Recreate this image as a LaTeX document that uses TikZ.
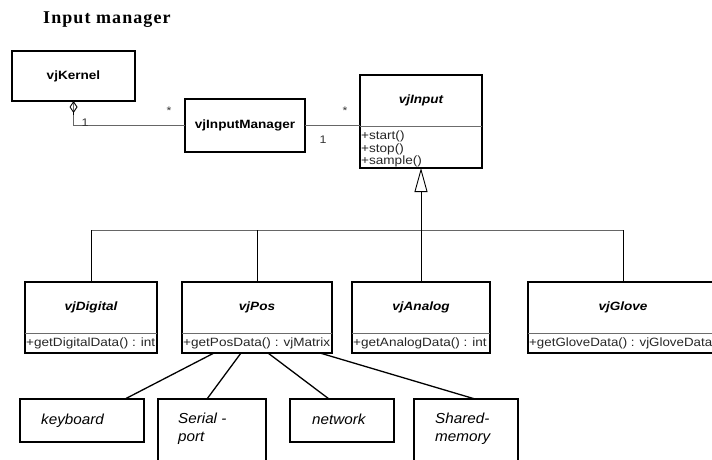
\documentclass[tikz,border=0pt]{standalone}
\usepackage{fontspec}
\setmainfont{Liberation Sans}
\newfontfamily\umlfont[FakeStretch=1.13]{Liberation Sans}
\newfontfamily\umlnarrow[FakeStretch=1.11]{Liberation Sans}
\newfontfamily\boxfont[FakeStretch=1.05]{Liberation Sans}
\newfontfamily\titlefont[LetterSpace=6]{Liberation Serif}
\usetikzlibrary{arrows.meta,calc}
\tikzset{
  cls/.style={draw=black, line width=1.8pt, inner sep=0pt, outer sep=0pt, anchor=north west},
  obox/.style={draw=black, line width=1.6pt, inner sep=0pt, outer sep=0pt, anchor=north west},
  divline/.style={draw=gray!85!black, line width=0.8pt},
  ctitle/.style={inner sep=0pt, font=\umlfont\fontsize{12}{12.3}\selectfont\bfseries},
  meth/.style={inner sep=0pt, anchor=west, align=left, font=\umlfont\fontsize{12}{12.3}\selectfont, text=black!85},
  btext/.style={inner sep=0pt, align=left, font=\boxfont\fontsize{14.5}{18}\selectfont\itshape},
  mult/.style={inner sep=0pt, anchor=base, font=\umlfont\fontsize{11}{11}\selectfont, text=black!80},
  glink/.style={draw=gray!80!black, line width=0.9pt},
  vlink/.style={draw=black, line width=0.9pt},
  plink/.style={draw=black, line width=1.3pt},
}
\begin{document}
\begin{tikzpicture}[x=1pt,y=-1pt]
\useasboundingbox (0,0) rectangle (712,460);
\clip (0,0) rectangle (712,460);

% title
\node[anchor=base west, inner sep=0pt, font=\titlefont\bfseries\fontsize{18}{18}\selectfont] (title) at (43,24) {Input manager};

% top classes
\node[cls, minimum width=123pt, minimum height=50pt] (kern) at (12,51) {};
\node[ctitle] (kernt) at (kern.center) {vjKernel};

\node[cls, minimum width=120pt, minimum height=53pt] (mgr) at (185,99) {};
\node[ctitle] (mgrt) at (mgr.center) {vjInputManager};

\node[cls, minimum width=122pt, minimum height=93pt] (input) at (360,75) {};
\node[ctitle, font=\umlfont\fontsize{12}{12.3}\selectfont\bfseries\itshape] (inputt) at ([yshift=-25.5pt]input.north) {vjInput};
\draw[divline] ([yshift=-51pt]input.north west) -- ([yshift=-51pt]input.north east);
\node[meth, anchor=north west] (inputm) at ([xshift=1pt,yshift=-56pt]input.north west) {+start()\\+stop()\\+sample()};

% bottom classes
\foreach \nm/\x/\w/\t/\m in {dig/25/132/vjDigital/{+getDigitalData() : int},
                            pos/182/150/vjPos/{+getPosData() : vjMatrix},
                            ana/352/138/vjAnalog/{+getAnalogData() : int},
                            glove/528/190/vjGlove/{\umlnarrow +getGloveData() : vjGloveData}}{
  \node[cls, minimum width=\w pt, minimum height=71pt] (\nm) at (\x,282) {};
  \node[ctitle, font=\umlfont\fontsize{12}{12.3}\selectfont\bfseries\itshape] (\nm t) at ([yshift=-25.5pt]\nm.north) {\t};
  \draw[divline] ([yshift=-51pt]\nm.north west) -- ([yshift=-51pt]\nm.north east);
  \node[meth] (\nm m) at ([xshift=1pt,yshift=-61pt]\nm.north west) {\m};
}

% device boxes
\node[obox, minimum width=124pt, minimum height=43pt] (kb) at (20,399) {};
\node[obox, minimum width=108pt, minimum height=80pt] (ser) at (158,399) {};
\node[obox, minimum width=104pt, minimum height=43pt] (net) at (290,399) {};
\node[obox, minimum width=104pt, minimum height=80pt] (sh) at (414,399) {};

\node[btext, anchor=base west] (kbt) at ([xshift=21pt,yshift=-25pt]kb.north west) {keyboard};
\node[btext, anchor=north west] (sert) at ([xshift=20pt,yshift=-14pt]ser.north west) {Serial -\\port};
\node[btext, anchor=base west] (nett) at ([xshift=22pt,yshift=-25pt]net.north west) {network};
\node[btext, anchor=north west] (sht) at ([xshift=21pt,yshift=-14pt]sh.north west) {Shared-\\memory};

% associations
\draw[glink] (mgr.west) -| (kern.south);
\draw[draw=black, line width=0.9pt, -{Diamond[open, length=12pt, width=8pt]}] ([yshift=-14pt]kern.south) -- (kern.south);
\draw[glink] (mgr.east) -- (mgr.east -| input.west);

\node[mult] (m1) at (85,126) {1};
\node[mult] (m2) at (169,114) {*};
\node[mult] (m3) at (345,114) {*};
\node[mult] (m4) at (323,143) {1};

% inheritance
\coordinate (bus) at (421,230);
\draw[glink] (dig.north |- bus) -- (glove.north |- bus);
\draw[vlink] (dig.north) -- (dig.north |- bus);
\draw[vlink] (pos.north) -- (pos.north |- bus);
\draw[vlink] (glove.north) -- (glove.north |- bus);
\draw[vlink, -{Triangle[open, length=24pt, width=13pt]}] (ana.north) -- (input.south);

% device links
\draw[plink] ([xshift=32pt]pos.south west) -- ([xshift=105pt]kb.north west);
\draw[plink] ([xshift=59pt]pos.south west) -- ([xshift=49pt]ser.north west);
\draw[plink] ([xshift=86pt]pos.south west) -- ([xshift=39pt]net.north west);
\draw[plink] ([xshift=138pt]pos.south west) -- ([xshift=61pt]sh.north west);
\end{tikzpicture}
\end{document}
